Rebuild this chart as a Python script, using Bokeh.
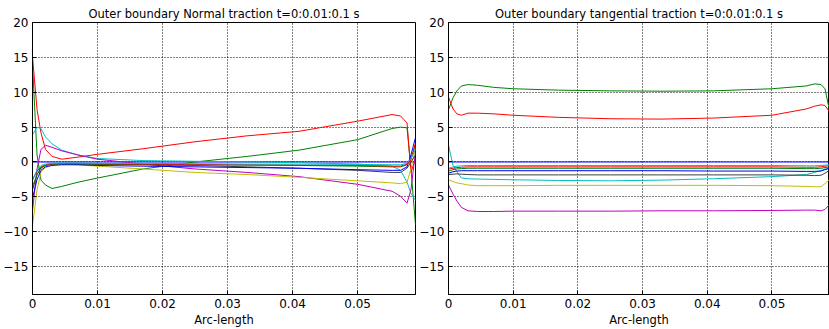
from bokeh.plotting import figure
from bokeh.layouts import row
from bokeh.models import Range1d, FixedTicker
from bokeh.embed import file_html
from bokeh.resources import INLINE

# Arc-length sample points (shared)
arc = [0, 0.0007, 0.0013, 0.002, 0.003, 0.0045, 0.007, 0.01, 0.017, 0.025,
       0.033, 0.041, 0.05, 0.0553, 0.0566, 0.0576, 0.0582, 0.0589]

times = ["0", "0.01", "0.02", "0.03", "0.04", "0.05", "0.06", "0.07", "0.08", "0.09", "0.1"]

# Normal traction, one list per time step
n_t000 = [0] * 18
n_t001 = [14, 1.0, -2.6, -3.3, -3.8, -3.5, -2.9, -2.3, -1.0, 0.0, 0.8, 1.7, 3.2, 4.8, 5.0, 4.9, -1.0, -9.0]
n_t002 = [15.1, 7.5, 4.2, 1.8, 0.8, 0.4, 0.7, 1.1, 1.9, 2.9, 3.75, 4.4, 5.85, 6.8, 6.6, 5.6, -1.5, 0.5]
n_t003 = [3.9, 5.0, 4.8, 3.6, 2.6, 1.7, 1.0, 0.5, 0.2, 0.1, 0.0, -0.1, -0.3, -0.6, -1.2, -2.9, -4.5, -5.5]
n_t004 = [-7.0, -1.0, 1.8, 2.4, 2.1, 1.6, 1.0, 0.4, -0.3, -1.0, -1.5, -2.1, -3.2, -4.2, -4.9, -5.9, -4.0, 1.5]
n_t005 = [-9.1, -4.0, -1.5, -0.8, -0.4, -0.3, -0.4, -0.6, -1.0, -1.5, -1.8, -2.2, -2.7, -3.0, -3.1, -2.9, -1.0, 2.1]
n_t006 = [-4.0, -1.8, -0.8, -0.5, -0.3, -0.3, -0.3, -0.35, -0.4, -0.5, -0.7, -0.9, -1.2, -1.5, -1.5, -0.9, 0.0, 1.0]
n_t007 = [-5.2, -2.5, -1.2, -0.7, -0.5, -0.4, -0.4, -0.5, -0.6, -0.7, -0.8, -0.9, -1.1, -1.2, -1.2, -0.7, 1.0, 3.5]
n_t008 = [-3.5, -1.8, -0.9, -0.5, -0.3, -0.25, -0.25, -0.3, -0.35, -0.4, -0.45, -0.5, -0.6, -0.7, -0.7, -0.4, 0.5, 2.5]
n_t009 = [-2.5, -1.3, -0.7, -0.4, -0.25, -0.2, -0.2, -0.25, -0.3, -0.35, -0.4, -0.45, -0.5, -0.6, -0.6, -0.3, 0.3, 2.8]
n_t010 = [-2.7, -1.1, -0.5, -0.3, -0.2, -0.15, -0.15, -0.2, -0.2, -0.25, -0.3, -0.3, -0.35, -0.4, -0.4, -0.2, 0.5, 1.8]

# Tangential traction, one list per time step
t_t000 = [0] * 18
t_t001 = [7.5, 9.2, 10.2, 10.9, 11.1, 11.0, 10.7, 10.5, 10.3, 10.2, 10.15, 10.2, 10.5, 10.9, 11.2, 11.1, 10.5, 7.4]
t_t002 = [9.3, 7.6, 6.9, 6.7, 7.0, 7.0, 6.9, 6.7, 6.4, 6.2, 6.15, 6.3, 6.7, 7.6, 8.0, 8.2, 8.1, 7.2]
t_t003 = [2.4, -0.5, -1.4, -2.3, -2.4, -2.45, -2.5, -2.55, -2.65, -2.7, -2.6, -2.4, -2.1, -1.8, -1.5, -1.2, -1.0, -0.9]
t_t004 = [-3.3, -4.6, -5.6, -6.5, -7.0, -7.1, -7.1, -7.05, -7.05, -7.05, -7.0, -7.0, -6.95, -6.9, -6.9, -7.0, -6.8, -6.1]
t_t005 = [-2.6, -2.8, -3.0, -3.1, -3.3, -3.4, -3.4, -3.4, -3.35, -3.35, -3.35, -3.35, -3.4, -3.5, -3.55, -3.55, -3.1, -2.5]
t_t006 = [-1.8, -1.75, -1.7, -1.75, -1.8, -1.85, -1.85, -1.85, -1.85, -1.85, -1.85, -1.85, -1.85, -1.9, -1.95, -1.9, -1.6, -1.2]
t_t007 = [-1.6, -1.4, -1.3, -1.25, -1.25, -1.25, -1.25, -1.25, -1.25, -1.25, -1.25, -1.3, -1.3, -1.35, -1.35, -1.3, -1.1, -0.9]
t_t008 = [-1.3, -1.1, -1.0, -0.95, -0.9, -0.9, -0.9, -0.9, -0.9, -0.9, -0.9, -0.9, -0.9, -0.95, -0.95, -0.9, -0.8, -0.7]
t_t009 = [-1.0, -0.9, -0.8, -0.75, -0.7, -0.7, -0.7, -0.7, -0.7, -0.7, -0.7, -0.7, -0.7, -0.75, -0.75, -0.7, -0.6, -0.5]
t_t010 = [-0.9, -0.7, -0.6, -0.55, -0.5, -0.5, -0.5, -0.5, -0.5, -0.5, -0.5, -0.5, -0.5, -0.55, -0.55, -0.5, -0.45, -0.4]

normal_series = [n_t000, n_t001, n_t002, n_t003, n_t004, n_t005, n_t006, n_t007, n_t008, n_t009, n_t010]
tangential_series = [t_t000, t_t001, t_t002, t_t003, t_t004, t_t005, t_t006, t_t007, t_t008, t_t009, t_t010]

x_ticks = [0, 0.01, 0.02, 0.03, 0.04, 0.05]
x_tick_labels = ["0", "0.01", "0.02", "0.03", "0.04", "0.05"]
y_ticks = [-15, -10, -5, 0, 5, 10, 15, 20]
y_tick_labels = ["\u221215", "\u221210", "\u22125", "0", "5", "10", "15", "20"]

colors = ["#0000ff", "#008000", "#ff0000", "#00bfbf", "#bf00bf", "#bfbf00", "#404040"]
FONT = "DejaVu Sans"


def make_fig(title, series, width, left_border, right_border):
    p = figure(width=width, height=329, output_backend="svg", toolbar_location=None,
               x_range=Range1d(0, 0.0589), y_range=Range1d(-19, 20),
               min_border_left=left_border, min_border_right=right_border,
               min_border_top=22, min_border_bottom=33)
    p.title.text = title
    p.title.align = "center"
    p.title.text_font = FONT
    p.title.text_font_size = "11.5px"
    p.title.text_font_style = "normal"
    p.title.text_color = "black"
    p.title.standoff = 3
    p.title.offset = 0
    for i, ys in enumerate(series):
        p.line(arc, ys, line_color=colors[i % 7], line_width=1)
    p.xaxis.ticker = FixedTicker(ticks=x_ticks)
    p.xaxis.major_label_overrides = dict(zip(x_ticks, x_tick_labels))
    p.yaxis.ticker = FixedTicker(ticks=y_ticks)
    p.yaxis.major_label_overrides = dict(zip(y_ticks, y_tick_labels))
    p.xaxis.axis_label = "Arc-length"
    p.xaxis.axis_label_text_font = FONT
    p.xaxis.axis_label_text_font_size = "11.5px"
    p.xaxis.axis_label_text_font_style = "normal"
    p.xaxis.axis_label_text_color = "black"
    p.xaxis.axis_label_standoff = 2
    for ax in (p.xaxis[0], p.yaxis[0]):
        ax.major_label_text_font = FONT
        ax.major_label_text_font_size = "12px"
        ax.major_label_text_color = "black"
        ax.major_tick_in = 4
        ax.major_tick_out = 0
        ax.minor_tick_in = 0
        ax.minor_tick_out = 0
        ax.axis_line_color = "black"
        ax.major_tick_line_color = "black"
        ax.major_label_standoff = 4
    p.xgrid.grid_line_color = "black"
    p.ygrid.grid_line_color = "black"
    p.xgrid.grid_line_dash = "1 2"
    p.ygrid.grid_line_dash = "1 2"
    p.xgrid.grid_line_alpha = 1.0
    p.ygrid.grid_line_alpha = 1.0
    p.outline_line_color = "black"
    p.outline_line_width = 1
    p.background_fill_color = "white"
    p.border_fill_color = "white"
    return p


p1 = make_fig("Outer boundary Normal traction t=0:0.01:0.1 s", normal_series, 416, 32, 1)
p2 = make_fig("Outer boundary tangential traction t=0:0.01:0.1 s", tangential_series, 413, 30, 0)

layout = row(p1, p2)
open("out.html", "w").write(file_html(layout, INLINE))
